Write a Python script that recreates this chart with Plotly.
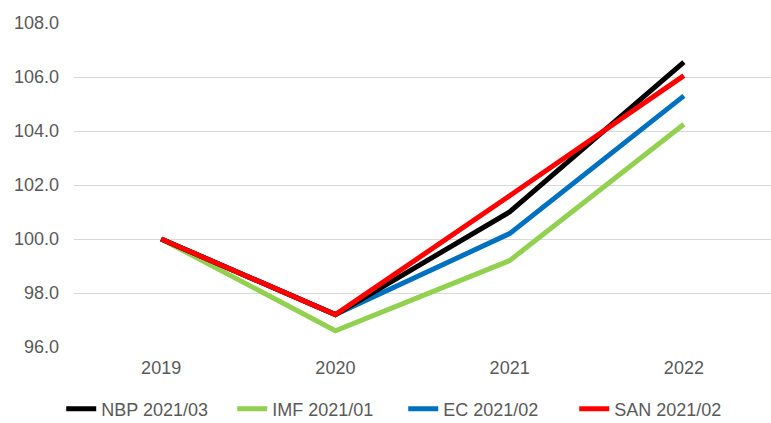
import plotly.graph_objects as go

years = ["2019", "2020", "2021", "2022"]
nbp = [100.0, 97.2, 101.0, 106.55]
imf = [100.0, 96.6, 99.2, 104.25]
ec = [100.0, 97.2, 100.2, 105.3]
san = [100.0, 97.2, 101.6, 106.05]

series = [
    ("NBP 2021/03", nbp, "#000000"),
    ("IMF 2021/01", imf, "#92d050"),
    ("EC 2021/02", ec, "#0070c0"),
    ("SAN 2021/02", san, "#ff0000"),
]

fig = go.Figure()
# draw order: IMF, EC, NBP, SAN so red on top
order = [1, 2, 0, 3]
for i in order:
    name, vals, col = series[i]
    fig.add_trace(go.Scatter(x=years, y=vals, mode="lines", name=name,
                             line=dict(color=col, width=5),
                             legendrank=i + 1))

fig.update_layout(
    width=771, height=423,
    margin=dict(l=74, r=0, t=23, b=76, autoexpand=False),
    plot_bgcolor="white", paper_bgcolor="white",
    font=dict(family="Liberation Sans, Arial", size=18, color="#595959"),
    showlegend=True,
    legend=dict(orientation="h", xref="container", yref="container",
                x=0.523, xanchor="center", y=0.033, yanchor="middle",
                font=dict(size=18, color="#595959"),
                entrywidth=126, entrywidthmode="pixels",
                traceorder="normal"),
    xaxis=dict(type="category", range=[-0.5, 3.5], showgrid=False, showline=False,
               ticks="", tickfont=dict(size=18, color="#595959"), ticklabelstandoff=8),
    yaxis=dict(range=[96, 108], dtick=2, tickformat=".1f", showgrid=True,
               gridcolor="#d9d9d9", gridwidth=1.3, zeroline=False, showline=False,
               tickfont=dict(size=18, color="#595959"), ticklabelstandoff=14),
)

fig.write_html("out.html")
